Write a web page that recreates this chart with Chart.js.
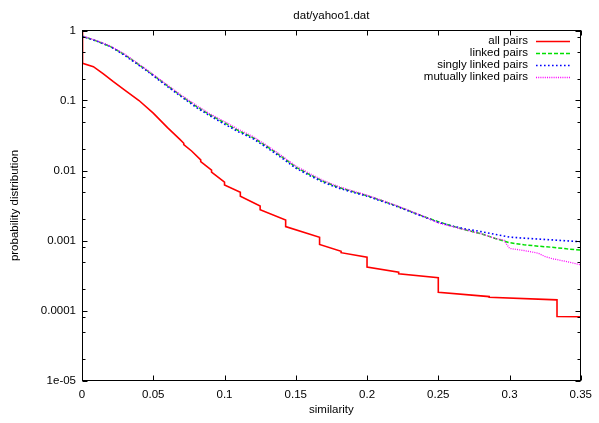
<!DOCTYPE html>
<html>
<head>
<meta charset="utf-8">
<script src="https://cdn.jsdelivr.net/npm/chart.js@4.4.1/dist/chart.umd.min.js"></script>
<style>html,body{margin:0;padding:0;background:#fff}</style>
</head>
<body>
<canvas id="c" width="599" height="423"></canvas>
<script>
// values
const allX=[0,0.0004,0.008,0.015,0.022,0.03,0.04,0.05,0.06,0.0685,0.0714,0.0714,0.0769,0.0833,0.0833,0.0909,0.0909,0.1,0.1,0.1111,0.1111,0.125,0.125,0.1429,0.1429,0.1667,0.1667,0.1818,0.1818,0.2,0.2,0.2222,0.2222,0.25,0.25,0.2857,0.2857,0.3333,0.3333,0.35];
const allY=[1,0.34,0.304,0.24,0.186,0.141,0.1,0.066,0.041,0.028,0.0245,0.0235,0.019,0.0142,0.0134,0.0101,0.0095,0.0068,0.0062,0.0049,0.0043,0.0031,0.00275,0.00196,0.00158,0.00111,0.00088,0.0007,0.00067,0.000577,0.000416,0.000352,0.000335,0.000293,0.000182,0.000158,0.000155,0.000142,0.0000822,0.0000813];
const linkedX=[0,0.01,0.02,0.03,0.045,0.06,0.07,0.08,0.09,0.1,0.11,0.12,0.13,0.14,0.15,0.16,0.17,0.18,0.19,0.2,0.21,0.22,0.23,0.24,0.25,0.26,0.27,0.28,0.29,0.3,0.31,0.32,0.33,0.34,0.35];
const linkedY=[0.83,0.71,0.59,0.45,0.275,0.162,0.115,0.083,0.062,0.048,0.037,0.0295,0.0219,0.0158,0.0112,0.0087,0.0069,0.00575,0.005,0.00437,0.00372,0.00316,0.00263,0.00219,0.00186,0.0016,0.0014,0.00125,0.00107,0.00093,0.00087,0.00083,0.0008,0.00076,0.00073];
const singlyX=linkedX;
const singlyY=[0.83,0.71,0.59,0.44,0.27,0.158,0.112,0.08,0.06,0.046,0.0355,0.0285,0.021,0.0152,0.0108,0.0084,0.0067,0.0056,0.0049,0.0043,0.00366,0.00312,0.0026,0.00217,0.00182,0.0016,0.00145,0.00134,0.00122,0.00112,0.00108,0.00105,0.00102,0.00099,0.00096];
const mutualX=[0,0.01,0.02,0.03,0.045,0.06,0.07,0.08,0.09,0.1,0.11,0.12,0.13,0.14,0.15,0.16,0.17,0.18,0.19,0.2,0.21,0.22,0.23,0.24,0.25,0.26,0.27,0.28,0.29,0.296,0.3,0.31,0.32,0.325,0.33,0.34,0.35];
const mutualY=[0.84,0.72,0.6,0.46,0.28,0.166,0.118,0.086,0.064,0.05,0.0385,0.0305,0.0226,0.0163,0.0116,0.009,0.0071,0.0059,0.0051,0.00445,0.00378,0.0032,0.00266,0.0022,0.00178,0.00158,0.0014,0.00125,0.00107,0.00101,0.00077,0.00072,0.00066,0.00059,0.00055,0.0005,0.00045];
const xTicks=[0,0.05,0.1,0.15,0.2,0.25,0.3,0.35];
const xTickLabels=['0','0.05','0.1','0.15','0.2','0.25','0.3','0.35'];
const yTicks=[1e-5,1e-4,1e-3,1e-2,1e-1,1];
const yTickLabels=['1e-05','0.0001','0.001','0.01','0.1','1'];
const yMinor=[2,5,8];
const names=['all pairs','linked pairs','singly linked pairs','mutually linked pairs'];

const pts=(xs,ys)=>xs.map((x,i)=>({x,y:ys[i]}));
const FONT="'Liberation Sans', Arial, sans-serif";
Chart.defaults.font.family=FONT; Chart.defaults.font.size=11.5; Chart.defaults.color='#000';

const ds=[
 {label:names[0],data:pts(allX,allY),borderColor:'#ff0000',borderWidth:1.6,borderDash:[],order:3},
 {label:names[1],data:pts(linkedX,linkedY),borderColor:'#00e000',borderWidth:1.5,borderDash:[4,2],order:2},
 {label:names[2],data:pts(singlyX,singlyY),borderColor:'#0000ff',borderWidth:1.6,borderDash:[1.6,2.4],order:1},
 {label:names[3],data:pts(mutualX,mutualY),borderColor:'#ff00ff',borderWidth:1.3,borderDash:[1,1.2],order:0}
].map(d=>Object.assign(d,{showLine:true,pointRadius:0,tension:0,fill:false}));

const frame={id:'frame',afterDraw(chart){
 const {ctx,chartArea:a,scales:{x,y}}=chart;
 ctx.save(); ctx.strokeStyle='#000'; ctx.lineWidth=1;
 const L=Math.floor(a.left)+0.5,R=Math.floor(a.right)+0.5,T=Math.floor(a.top)+0.5,B=Math.floor(a.bottom)+0.5;
 ctx.beginPath();
 xTicks.forEach(v=>{const px=Math.round(x.getPixelForValue(v))+0.5;ctx.moveTo(px,B);ctx.lineTo(px,B-5);ctx.moveTo(px,T);ctx.lineTo(px,T+5);});
 yTicks.forEach((v,i)=>{
  const py=Math.round(y.getPixelForValue(v))+0.5; ctx.moveTo(L,py);ctx.lineTo(L+5,py);ctx.moveTo(R,py);ctx.lineTo(R-5,py);
  if(i<yTicks.length-1) yMinor.forEach(m=>{const q=Math.round(y.getPixelForValue(v*m))+0.5;ctx.moveTo(L,q);ctx.lineTo(L+3,q);ctx.moveTo(R,q);ctx.lineTo(R-3,q);});
 });
 ctx.stroke();
 ctx.strokeRect(L,T,R-L,B-T);
 // legend, top right inside the frame
 ctx.font='11.5px '+FONT; ctx.textAlign='right'; ctx.textBaseline='middle'; ctx.fillStyle='#000';
 chart.data.datasets.forEach((d,i)=>{
  const ry=41+i*12;
  ctx.fillText(d.label,528,ry);
  ctx.save(); ctx.strokeStyle=d.borderColor; ctx.lineWidth=d.borderWidth; ctx.setLineDash(d.borderDash);
  ctx.beginPath(); ctx.moveTo(536,ry+0.5); ctx.lineTo(570,ry+0.5); ctx.stroke(); ctx.restore();
 });
 ctx.restore();
}};

new Chart(document.getElementById('c'),{
 type:'scatter',
 data:{datasets:ds},
 options:{
  responsive:false,animation:false,devicePixelRatio:1,
  layout:{padding:{left:0,right:16,top:0,bottom:0}},
  plugins:{
   legend:{display:false},tooltip:{enabled:false},
   title:{display:true,text:'dat/yahoo1.dat',fullSize:false,font:{size:11.5,weight:'normal'},padding:{top:8.6,bottom:8.1}}
  },
  scales:{
   x:{type:'linear',min:0,max:0.35,grid:{display:false,drawTicks:false},border:{display:false},
      afterBuildTicks:s=>{s.ticks=xTicks.map(v=>({value:v}));},afterFit:s=>{s.height=42.5;},
      ticks:{autoSkip:false,maxRotation:0,padding:7,callback:(v,i)=>xTickLabels[i]},
      title:{display:true,text:'similarity',padding:{top:0,bottom:6}}},
   y:{type:'logarithmic',min:1e-5,max:1,grid:{display:false,drawTicks:false},border:{display:false},
      afterBuildTicks:s=>{s.ticks=yTicks.map(v=>({value:v}));},afterFit:s=>{s.width=82;},
      ticks:{autoSkip:false,padding:6,callback:(v,i)=>yTickLabels[i]},
      title:{display:true,text:'probability distribution',padding:{top:8,bottom:0}}}
  }
 },
 plugins:[frame]
});
</script>
</body>
</html>
